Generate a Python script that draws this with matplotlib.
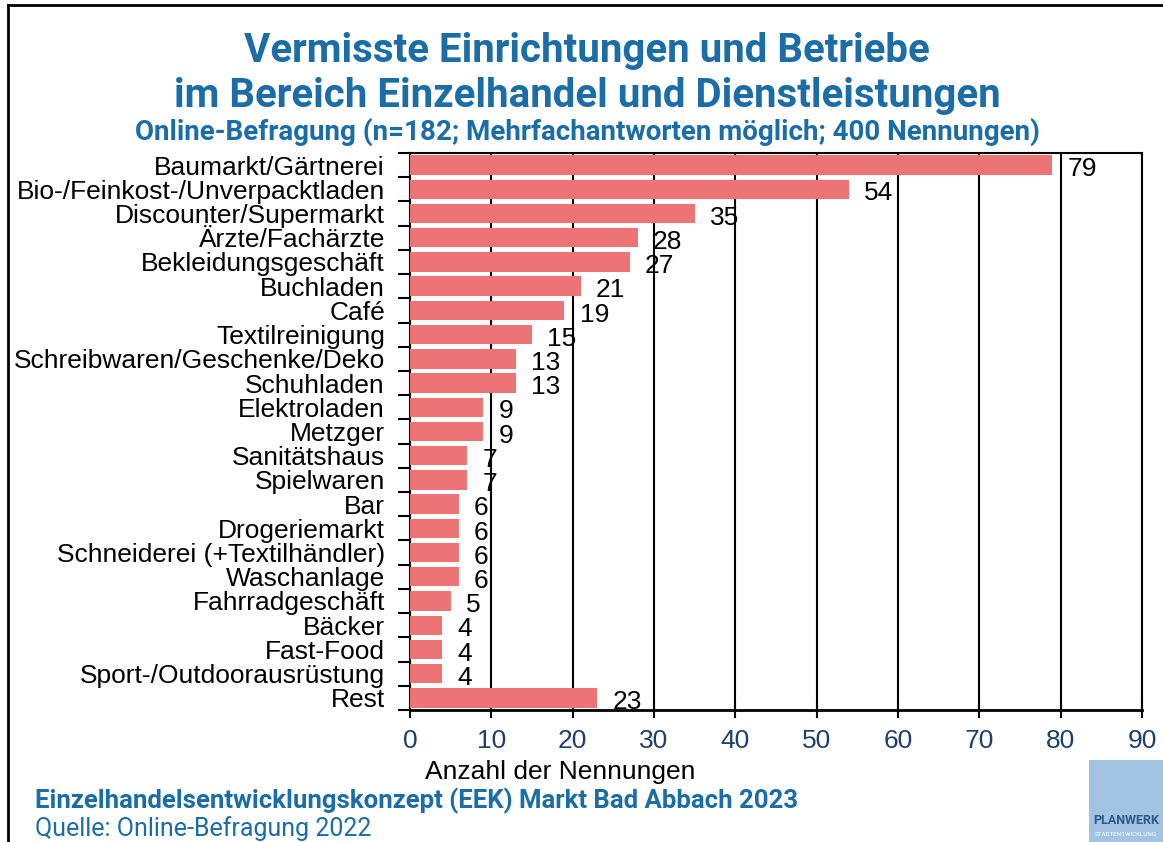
import numpy as np
import matplotlib.pyplot as plt
from matplotlib.patches import Rectangle

# ===============================
# Daten
# ===============================
kategorien = [
    "Baumarkt/Gärtnerei", "Bio-/Feinkost-/Unverpacktladen", "Discounter/Supermarkt",
    "Ärzte/Fachärzte", "Bekleidungsgeschäft", "Buchladen", "Café", "Textilreinigung",
    "Schreibwaren/Geschenke/Deko", "Schuhladen", "Elektroladen", "Metzger",
    "Sanitätshaus", "Spielwaren", "Bar", "Drogeriemarkt", "Schneiderei (+Textilhändler)",
    "Waschanlage", "Fahrradgeschäft", "Bäcker", "Fast-Food", "Sport-/Outdoorausrüstung",
    "Rest",
]
nennungen = [79, 54, 35, 28, 27, 21, 19, 15, 13, 13, 9, 9, 7, 7, 6, 6, 6, 6, 5, 4, 4, 4, 23]
x_ticks = [0, 10, 20, 30, 40, 50, 60, 70, 80, 90]

TITEL_BLAU = "#1a6da6"
TICK_BLAU = "#1c3f6e"
BALKEN = "#ec7474"

plt.rcParams["font.family"] = ["Liberation Sans", "DejaVu Sans"]

fig = plt.figure(figsize=(11.63, 8.42), dpi=100)
ax = fig.add_axes([0.3525, 0.1568, 0.6294, 0.6615])

y = np.arange(len(kategorien))
ax.barh(y, nennungen, height=0.8, color=BALKEN, zorder=3)
for yi, v in zip(y, nennungen):
    ax.annotate(str(v), (v, yi), xytext=(11, -3), textcoords="offset points",
                ha="left", va="center", fontsize=19, color="black", zorder=4)

ax.set_xlim(0, 90)
ax.set_ylim(len(kategorien) - 0.5, -0.5)
ax.set_xticks(x_ticks)
ax.set_xticklabels([str(t) for t in x_ticks], fontsize=19, color=TICK_BLAU)
ax.tick_params(axis="x", direction="inout", length=12, width=1.5, pad=8)
ax.grid(axis="x", color="black", linewidth=1.5, zorder=1)

ax.set_yticks(y)
ax.set_yticklabels(kategorien, fontsize=19)
ax.tick_params(axis="y", length=0, pad=18)
ax.set_yticks(np.arange(-0.5, len(kategorien), 1), minor=True)
ax.tick_params(axis="y", which="minor", direction="out", length=9, width=1.5)

for s in ax.spines.values():
    s.set_linewidth(1.5)
ax.spines["bottom"].set_linewidth(2)

# Titel
fig.text(0.505, 0.94, "Vermisste Einrichtungen und Betriebe", ha="center", va="center",
         fontsize=29, fontweight="bold", color=TITEL_BLAU, family="Roboto")
fig.text(0.505, 0.886, "im Bereich Einzelhandel und Dienstleistungen", ha="center", va="center",
         fontsize=29, fontweight="bold", color=TITEL_BLAU, family="Roboto")
fig.text(0.505, 0.843, "Online-Befragung (n=182; Mehrfachantworten möglich; 400 Nennungen)",
         ha="center", va="center", fontsize=20, fontweight="bold", color=TITEL_BLAU, family="Roboto")

fig.text(0.482, 0.083, "Anzahl der Nennungen", ha="center", va="center", fontsize=19)

fig.text(0.03, 0.049, "Einzelhandelsentwicklungskonzept (EEK) Markt Bad Abbach 2023",
         ha="left", va="center", fontsize=18.5, fontweight="bold", color=TITEL_BLAU, family="Roboto")
fig.text(0.03, 0.016, "Quelle: Online-Befragung 2022", ha="left", va="center",
         fontsize=18, color=TITEL_BLAU, family="Roboto")

# Logo
fig.patches.append(Rectangle((0.936, 0.0), 0.064, 0.097, transform=fig.transFigure,
                             facecolor="#a3c3e3", edgecolor="none"))
fig.text(0.968, 0.025, "PLANWERK", ha="center", va="center", fontsize=9,
         fontweight="bold", color="#2c5a8c", family="Roboto")
fig.text(0.968, 0.009, "STADTENTWICKLUNG", ha="center", va="center", fontsize=4.5,
         color="white", family="Roboto")

# Rahmen
fig.add_artist(plt.Line2D([0.007, 0.007], [0.0, 0.994], transform=fig.transFigure,
                          color="black", linewidth=2))
fig.add_artist(plt.Line2D([0.007, 1.0], [0.994, 0.994], transform=fig.transFigure,
                          color="black", linewidth=2))

fig.savefig("out.png", dpi=100)
